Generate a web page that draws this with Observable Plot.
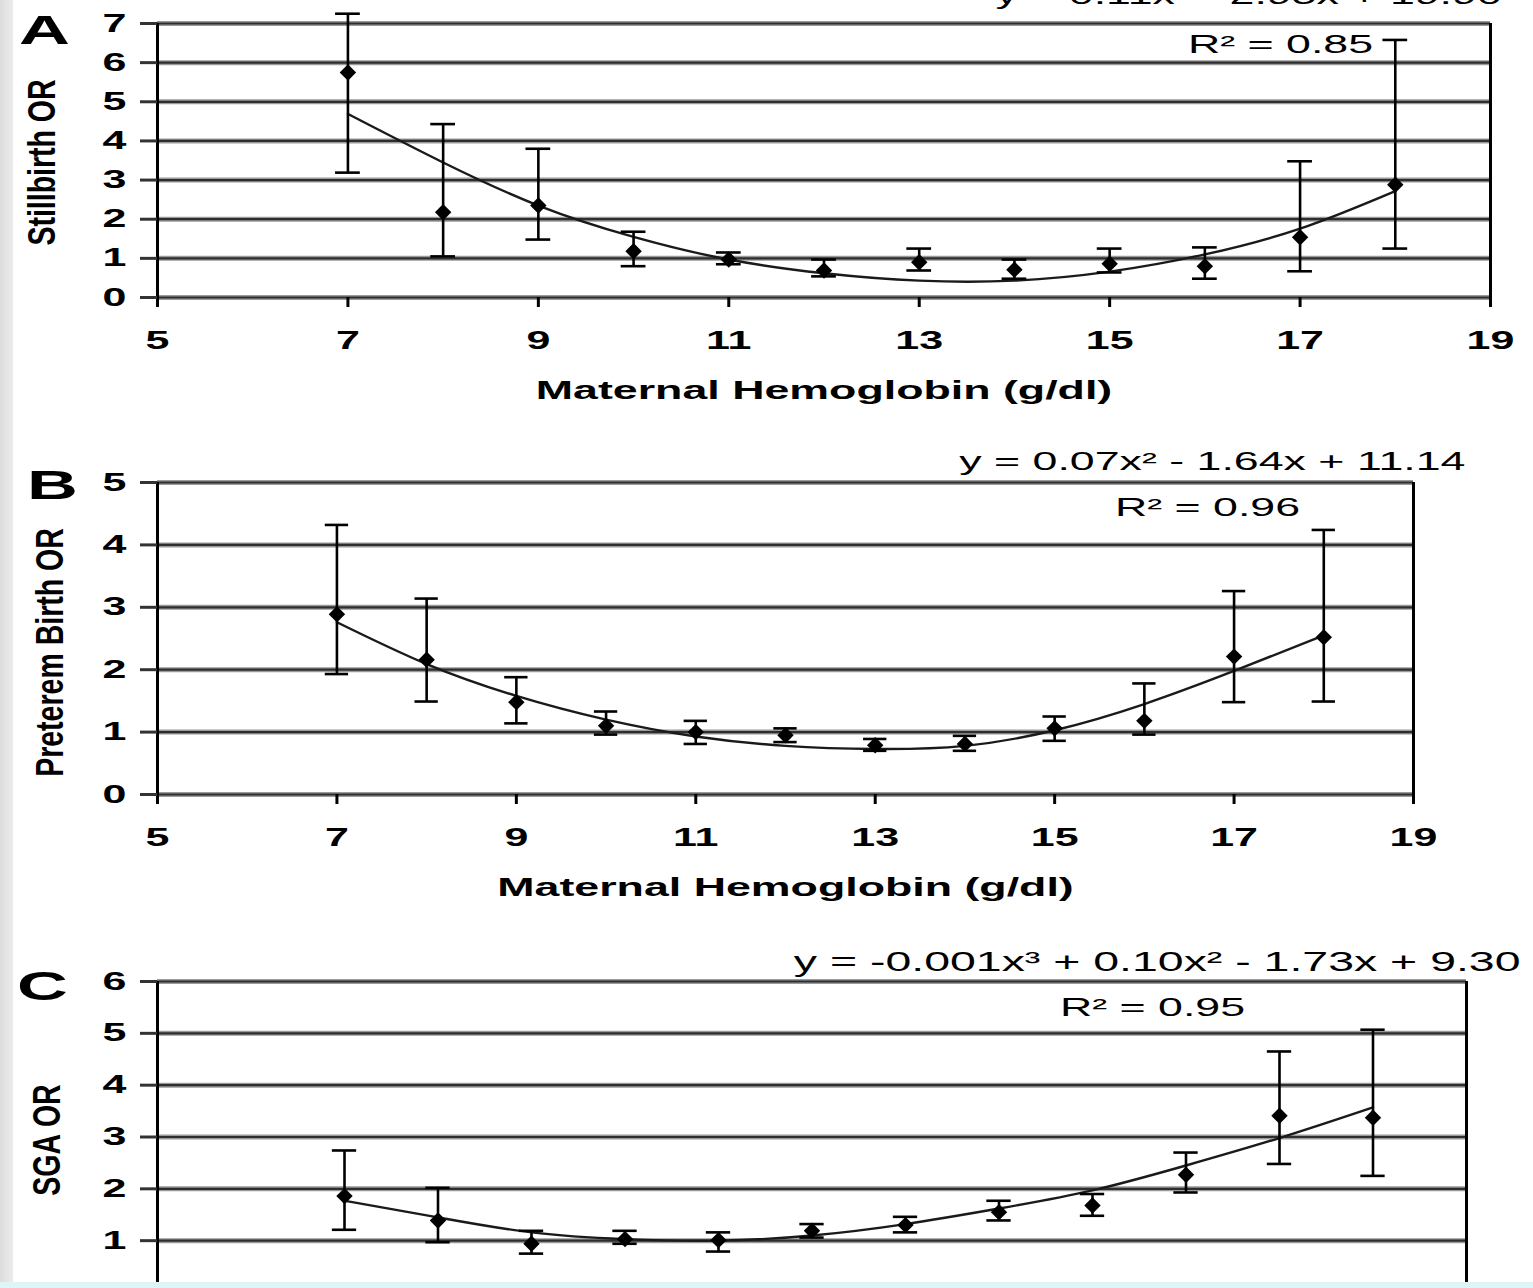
<!DOCTYPE html>
<html>
<head>
<meta charset="utf-8">
<script src="https://cdn.jsdelivr.net/npm/d3@7"></script>
<script src="https://cdn.jsdelivr.net/npm/@observablehq/plot@0.6"></script>
<style>
  html, body { margin: 0; padding: 0; background: #ffffff; overflow: hidden; }
  #page { position: relative; width: 1533px; height: 1288px; overflow: hidden; background: #ffffff; }
  .panel { position: absolute; left: 0; }
  .panel svg { overflow: visible; }
  #leftStrip { position: absolute; left: 0; top: 0; width: 13px; height: 1288px; background: linear-gradient(to right, #dcdcdc, #ececec); z-index: 5; }
  #bottomBand { position: absolute; left: 0; top: 1282px; width: 1533px; height: 6px; background: #dff4f7; z-index: 5; }
</style>
</head>
<body>
<div id="page">
  <div class="panel" id="panelA" style="top:0px"></div>
  <div class="panel" id="panelB" style="top:420px"></div>
  <div class="panel" id="panelC" style="top:920px"></div>
  <div id="leftStrip"></div>
  <div id="bottomBand"></div>
</div>
<script>
// ---------------- DATA ----------------
const hemoglobin = [7, 8, 9, 10, 11, 12, 13, 14, 15, 16, 17, 18];
const xTicks = [5, 7, 9, 11, 13, 15, 17, 19];
const xTitle = "Maternal Hemoglobin (g/dl)";

// Panel A: Stillbirth
const stillbirthOR   = [5.75, 2.18, 2.35, 1.18, 0.97, 0.69, 0.90, 0.71, 0.86, 0.80, 1.54, 2.88];
const stillbirthLow  = [3.19, 1.05, 1.48, 0.80, 0.85, 0.54, 0.69, 0.48, 0.64, 0.48, 0.67, 1.25];
const stillbirthHigh = [7.25, 4.43, 3.80, 1.68, 1.15, 0.97, 1.25, 0.97, 1.25, 1.28, 3.48, 6.58];
const stillbirthFit  = [4.69, 3.45, 2.35, 1.55, 0.97, 0.62, 0.43, 0.43, 0.66, 1.10, 1.76, 2.72];
const yTicksA = [0, 1, 2, 3, 4, 5, 6, 7];

// Panel B: Preterm birth
const pretermOR   = [2.89, 2.16, 1.48, 1.10, 1.00, 0.95, 0.79, 0.81, 1.06, 1.18, 2.21, 2.52];
const pretermLow  = [1.93, 1.49, 1.14, 0.96, 0.81, 0.84, 0.70, 0.70, 0.86, 0.96, 1.48, 1.49];
const pretermHigh = [4.32, 3.14, 1.88, 1.33, 1.18, 1.06, 0.89, 0.94, 1.25, 1.78, 3.26, 4.24];
const pretermFit  = [2.76, 2.09, 1.58, 1.20, 0.93, 0.78, 0.73, 0.78, 1.03, 1.45, 1.98, 2.55];
const yTicksB = [0, 1, 2, 3, 4, 5];

// Panel C: SGA
const sgaOR   = [1.86, 1.39, 0.94, 1.03, 1.01, 1.19, 1.30, 1.55, 1.68, 2.27, 3.41, 3.37];
const sgaLow  = [1.21, 0.97, 0.75, 0.94, 0.79, 1.06, 1.16, 1.39, 1.48, 1.93, 2.48, 2.25];
const sgaHigh = [2.74, 2.02, 1.19, 1.19, 1.16, 1.32, 1.46, 1.77, 1.90, 2.70, 4.65, 5.07];
const sgaFit  = [1.77, 1.45, 1.16, 1.03, 1.00, 1.10, 1.32, 1.62, 1.97, 2.45, 2.98, 3.57];
const yTicksC = [0, 1, 2, 3, 4, 5, 6];

const labelsText = {
  A: {letter: "A", yTitle: "Stillbirth OR", eq: "y = 0.11x² - 2.95x + 19.90", r2: "R² = 0.85"},
  B: {letter: "B", yTitle: "Preterem Birth OR", eq: "y = 0.07x² - 1.64x + 11.14", r2: "R² = 0.96"},
  C: {letter: "C", yTitle: "SGA OR", eq: "y = -0.001x³ + 0.10x² - 1.73x + 9.30", r2: "R² = 0.95"}
};

// ---------------- HELPERS ----------------
const FONT = "'Liberation Sans', Arial, Helvetica, sans-serif";
const NARROW = "'Liberation Sans Narrow', 'Liberation Sans', Arial, sans-serif";
const STRETCH = 1.72;     // horizontal widening of horizontal texts
const CONDENSE = 0.75;    // narrowing of the rotated y titles
const CAP = 0.13;

function rows(or, lo, hi, fit) {
  return hemoglobin.map((x, i) => ({x, or: or[i], lo: lo[i], hi: hi[i], fit: fit[i]}));
}

function panel(cfg) {
  const data = rows(cfg.or, cfg.lo, cfg.hi, cfg.fit);
  const t = cfg.text;
  return Plot.plot({
    width: 1533,
    height: cfg.height,
    marginTop: cfg.mt,
    marginBottom: cfg.mb,
    marginLeft: 157,
    marginRight: cfg.mr,
    style: {fontFamily: FONT, background: "transparent", color: "#000", overflow: "visible"},
    x: {domain: [5, 19]},
    y: {domain: [0, cfg.ymax]},
    marks: [
      Plot.ruleY(cfg.yTicks, {stroke: "#9a9a9a", strokeWidth: 5}),
      Plot.ruleY(cfg.yTicks, {stroke: "#2e2e2e", strokeWidth: 2.2}),
      Plot.ruleX([5, 19], {stroke: "#000", strokeWidth: 3}),
      Plot.axisX(xTicks, {tickSize: 10, tickPadding: 24, fontSize: 25, fontWeight: "bold", strokeWidth: 3, label: null, tickFormat: d => String(d)}),
      Plot.axisY(cfg.yTicks, {tickSize: 17, tickPadding: 14, fontSize: 25, fontWeight: "bold", strokeWidth: 3, stroke: "#333", label: null, tickFormat: d => String(d)}),
      Plot.line(data, {x: "x", y: "fit", curve: "natural", stroke: "#1a1a1a", strokeWidth: 2.4}),
      Plot.ruleX(data, {x: "x", y1: "lo", y2: "hi", stroke: "#000", strokeWidth: 2.6}),
      Plot.ruleY(data, {y: "hi", x1: d => d.x - CAP, x2: d => d.x + CAP, stroke: "#000", strokeWidth: 2.6}),
      Plot.ruleY(data, {y: "lo", x1: d => d.x - CAP, x2: d => d.x + CAP, stroke: "#000", strokeWidth: 2.6}),
      Plot.dot(data, {x: "x", y: "or", symbol: "diamond2", r: 7.4, fill: "#000", stroke: "none"}),
      Plot.text([xTitle], {frameAnchor: "bottom", dy: 93, fontSize: 26, fontWeight: "bold", lineAnchor: "middle", textAnchor: "middle"}),
      Plot.text([t.yTitle], {frameAnchor: "left", rotate: -90, dx: cfg.ytDx, dy: cfg.ytDy, fontSize: 38, fontWeight: "bold", fontFamily: NARROW, lineAnchor: "middle", textAnchor: "middle"}),
      Plot.text([t.letter], {frameAnchor: "top-left", dx: cfg.lDx, dy: cfg.lDy, fontSize: 41, fontWeight: "bold", textAnchor: "middle", lineAnchor: "middle"}),
      Plot.text([t.eq], {frameAnchor: "top-right", dx: cfg.eqDx, dy: cfg.eqDy, fontSize: cfg.eqSize, textAnchor: cfg.eqAnchor, lineAnchor: "middle"}),
      Plot.text([t.r2], {frameAnchor: "top-right", dx: cfg.r2Dx, dy: cfg.r2Dy, fontSize: 26, textAnchor: "middle", lineAnchor: "middle"})
    ]
  });
}

function adjustTexts(svg) {
  svg.querySelectorAll("text").forEach(el => {
    const tr = el.getAttribute("transform") || "";
    const ptr = (el.parentNode && el.parentNode.getAttribute && el.parentNode.getAttribute("transform")) || "";
    const rotated = tr.includes("rotate") || ptr.includes("rotate");
    const L = el.getComputedTextLength();
    if (L > 0) {
      el.setAttribute("textLength", (L * (rotated ? CONDENSE : STRETCH)).toFixed(1));
      el.setAttribute("lengthAdjust", "spacingAndGlyphs");
    }
  });
}

const specs = [
  {id: "panelA", or: stillbirthOR, lo: stillbirthLow, hi: stillbirthHigh, fit: stillbirthFit, yTicks: yTicksA, ymax: 7,
   height: 420, mt: 23, mb: 123, mr: 43, text: labelsText.A,
   ytDx: -115, ytDy: 2, lDx: -113, lDy: 7, eqDx: -495, eqDy: -28, eqAnchor: "start", eqSize: 26, r2Dx: -210, r2Dy: 21},
  {id: "panelB", or: pretermOR, lo: pretermLow, hi: pretermHigh, fit: pretermFit, yTicks: yTicksB, ymax: 5,
   height: 500, mt: 62, mb: 126, mr: 120, text: labelsText.B,
   ytDx: -107, ytDy: 14, lDx: -105, lDy: 3, eqDx: 52, eqDy: -21, eqAnchor: "end", eqSize: 26, r2Dx: -206, r2Dy: 25},
  {id: "panelC", or: sgaOR, lo: sgaLow, hi: sgaHigh, fit: sgaFit, yTicks: yTicksC, ymax: 6,
   height: 500, mt: 61, mb: 128, mr: 67, text: labelsText.C,
   ytDx: -110, ytDy: 3, lDx: -115, lDy: 5, eqDx: 54, eqDy: -19, eqAnchor: "end", eqSize: 27, r2Dx: -314, r2Dy: 26}
];

for (const s of specs) {
  const svg = panel(s);
  document.getElementById(s.id).appendChild(svg);
  adjustTexts(svg);
}
</script>
</body>
</html>
